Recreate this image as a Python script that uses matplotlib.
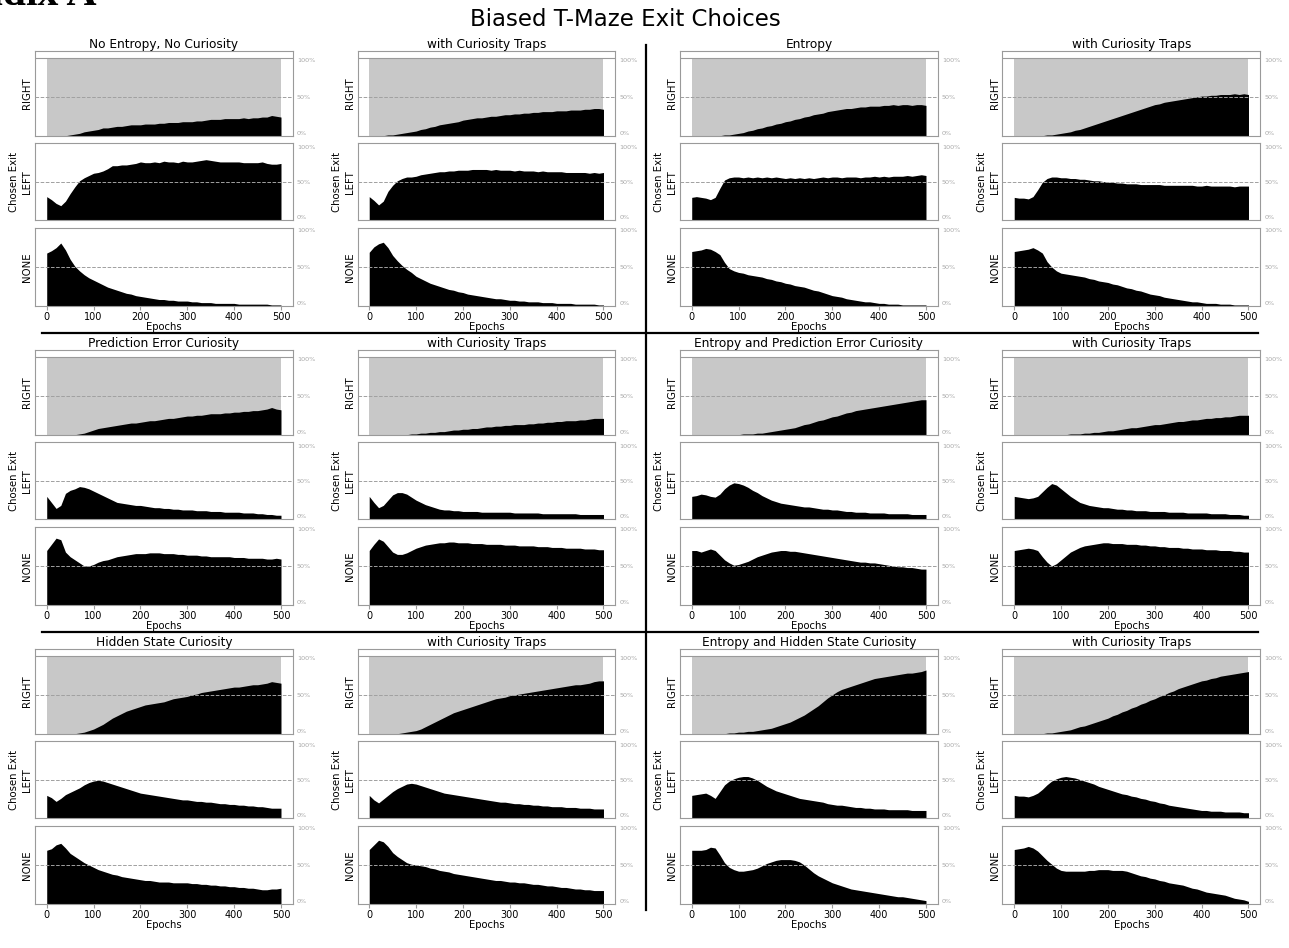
import numpy as np
import matplotlib.pyplot as plt
from matplotlib.lines import Line2D

epochs = np.arange(0, 501, 10)

# --- No Entropy, No Curiosity ---
nn_right = [0, 0, 0, 0, 0, 1, 2, 3, 5, 6,
            7, 8, 10, 10, 11, 12, 12, 13, 14, 14,
            14, 15, 15, 15, 16, 16, 17, 17, 17, 18,
            18, 18, 19, 19, 20, 21, 21, 21, 22, 22,
            22, 22, 23, 22, 23, 23, 24, 24, 26, 25,
            24]
nn_left = [31, 27, 22, 19, 25, 35, 44, 52, 56, 59,
           62, 63, 65, 68, 72, 72, 73, 73, 74, 75,
           77, 76, 76, 77, 76, 78, 77, 77, 76, 78,
           77, 77, 78, 79, 80, 79, 78, 77, 77, 77,
           77, 77, 76, 76, 76, 76, 77, 75, 74, 74,
           75]
nn_none = [68, 71, 75, 81, 72, 60, 51, 45, 40, 36,
           33, 30, 27, 24, 22, 20, 18, 16, 15, 13,
           12, 11, 10, 9, 8, 8, 7, 7, 6, 6,
           6, 5, 5, 4, 4, 4, 3, 3, 3, 3,
           3, 2, 2, 2, 2, 2, 2, 2, 1, 1,
           1]

# --- No Entropy, No Curiosity, with traps ---
nnt_right = [0, 0, 0, 0, 1, 1, 2, 3, 4, 5,
             6, 8, 9, 11, 12, 14, 15, 16, 17, 18,
             20, 21, 22, 23, 23, 24, 25, 25, 26, 27,
             27, 28, 28, 29, 29, 30, 30, 31, 31, 31,
             32, 32, 32, 33, 33, 33, 34, 34, 35, 35,
             34]
nnt_left = [31, 26, 20, 25, 38, 46, 52, 55, 57, 57,
            58, 60, 61, 62, 63, 64, 64, 65, 65, 66,
            66, 66, 67, 67, 67, 67, 66, 67, 66, 66,
            66, 65, 66, 65, 65, 65, 64, 65, 64, 64,
            64, 64, 63, 63, 63, 63, 63, 62, 63, 62,
            63]
nnt_none = [69, 76, 80, 82, 75, 65, 58, 52, 47, 43,
            38, 35, 32, 29, 27, 25, 23, 21, 20, 18,
            17, 15, 14, 13, 12, 11, 10, 9, 9, 8,
            7, 7, 6, 6, 5, 5, 5, 4, 4, 4,
            3, 3, 3, 3, 2, 2, 2, 2, 2, 1,
            1]

# --- Entropy ---
en_right = [0, 0, 0, 0, 0, 0, 0, 1, 1, 2,
            3, 4, 6, 7, 9, 10, 12, 13, 15, 16,
            18, 19, 21, 22, 24, 25, 27, 28, 29, 31,
            32, 33, 34, 35, 35, 36, 37, 37, 38, 38,
            38, 39, 39, 40, 39, 40, 40, 39, 40, 40,
            39]
en_left = [30, 31, 30, 29, 27, 30, 42, 53, 56, 57,
           57, 56, 57, 56, 57, 56, 57, 56, 57, 56,
           55, 56, 55, 56, 55, 56, 55, 56, 57, 56,
           57, 57, 56, 57, 57, 57, 56, 57, 57, 58,
           57, 58, 57, 58, 58, 58, 59, 58, 59, 60,
           59]
en_none = [70, 71, 72, 74, 73, 70, 66, 56, 48, 45,
           43, 42, 40, 39, 38, 37, 35, 34, 32, 31,
           29, 28, 26, 25, 24, 22, 20, 19, 17, 15,
           13, 12, 11, 9, 8, 7, 6, 5, 5, 4,
           3, 3, 2, 2, 2, 1, 1, 1, 1, 1,
           1]

# --- Entropy, with traps ---
ent_right = [0, 0, 0, 0, 0, 0, 0, 1, 1, 2,
             3, 4, 5, 7, 8, 10, 12, 14, 16, 18,
             20, 22, 24, 26, 28, 30, 32, 34, 36, 38,
             40, 41, 43, 44, 45, 46, 47, 48, 49, 50,
             51, 51, 52, 52, 53, 53, 53, 54, 53, 54,
             53]
ent_left = [30, 29, 29, 28, 31, 40, 50, 55, 57, 57,
            56, 56, 55, 55, 54, 54, 53, 52, 52, 51,
            50, 50, 49, 49, 48, 48, 48, 47, 47, 47,
            47, 47, 46, 46, 46, 46, 46, 46, 46, 45,
            45, 46, 45, 45, 45, 45, 45, 44, 45, 45,
            45]
ent_none = [70, 71, 72, 73, 75, 72, 68, 57, 50, 45,
            42, 41, 40, 39, 38, 37, 35, 34, 32, 31,
            30, 28, 27, 25, 23, 22, 20, 19, 17, 15,
            14, 13, 11, 10, 9, 8, 7, 6, 5, 5,
            4, 3, 3, 3, 2, 2, 2, 1, 1, 1,
            1]

# --- Prediction Error Curiosity ---
pe_right = [0, 0, 0, 0, 0, 0, 0, 1, 2, 4,
            6, 8, 9, 10, 11, 12, 13, 14, 15, 15,
            16, 17, 18, 18, 19, 20, 21, 21, 22, 23,
            24, 24, 25, 25, 26, 27, 27, 27, 28, 28,
            29, 29, 30, 30, 31, 31, 32, 33, 35, 33,
            32]
pe_left = [30, 22, 14, 18, 34, 38, 40, 43, 42, 40,
           37, 34, 31, 28, 25, 22, 21, 20, 19, 18,
           18, 17, 16, 15, 15, 14, 14, 13, 13, 12,
           12, 12, 11, 11, 11, 10, 10, 10, 9, 9,
           9, 9, 8, 8, 8, 7, 7, 6, 6, 5,
           5]
pe_none = [70, 78, 86, 84, 68, 62, 58, 54, 50, 50,
           52, 55, 57, 58, 60, 62, 63, 64, 65, 66,
           66, 66, 67, 67, 67, 66, 66, 66, 65, 65,
           64, 64, 64, 63, 63, 62, 62, 62, 62, 62,
           61, 61, 61, 60, 60, 60, 60, 59, 59, 60,
           59]

# --- Prediction Error Curiosity, with traps ---
pet_right = [0, 0, 0, 0, 0, 0, 0, 0, 0, 1,
             1, 2, 2, 3, 3, 4, 4, 5, 6, 6,
             7, 7, 8, 8, 9, 10, 10, 11, 11, 12,
             12, 13, 13, 13, 14, 14, 15, 15, 16, 16,
             17, 17, 18, 18, 18, 19, 19, 20, 21, 21,
             21]
pet_left = [30, 22, 15, 18, 25, 32, 35, 35, 33, 29,
            25, 22, 19, 17, 15, 13, 12, 12, 11, 11,
            10, 10, 10, 10, 9, 9, 9, 9, 9, 9,
            9, 8, 8, 8, 8, 8, 8, 7, 7, 7,
            7, 7, 7, 7, 7, 6, 6, 6, 6, 6,
            6]
pet_none = [70, 78, 85, 82, 75, 68, 65, 65, 67, 70,
            73, 75, 77, 78, 79, 80, 80, 81, 81, 80,
            80, 80, 79, 79, 79, 78, 78, 78, 78, 77,
            77, 77, 76, 76, 76, 76, 75, 75, 75, 74,
            74, 74, 73, 73, 73, 73, 72, 72, 72, 71,
            71]

# --- Entropy and Prediction Error Curiosity ---
epe_right = [0, 0, 0, 0, 0, 0, 0, 0, 0, 0,
             0, 1, 1, 1, 2, 2, 3, 4, 5, 6,
             7, 8, 9, 11, 13, 14, 16, 18, 19, 21,
             23, 24, 26, 28, 29, 31, 32, 33, 34, 35,
             36, 37, 38, 39, 40, 41, 42, 43, 44, 45,
             45]
epe_left = [30, 31, 33, 32, 30, 29, 33, 40, 45, 48,
            47, 45, 42, 38, 35, 31, 28, 25, 23, 21,
            20, 19, 18, 17, 16, 16, 15, 14, 13, 13,
            12, 12, 11, 10, 10, 9, 9, 9, 8, 8,
            8, 8, 7, 7, 7, 7, 7, 6, 6, 6,
            6]
epe_none = [70, 70, 68, 70, 72, 70, 64, 58, 54, 51,
            52, 54, 56, 59, 62, 64, 66, 68, 69, 70,
            70, 69, 69, 68, 67, 66, 65, 64, 63, 62,
            61, 60, 59, 58, 57, 56, 55, 55, 54, 54,
            53, 52, 51, 50, 49, 49, 48, 48, 47, 46,
            46]

# --- Entropy and Prediction Error Curiosity, with traps ---
epet_right = [0, 0, 0, 0, 0, 0, 0, 0, 0, 0,
              0, 0, 1, 1, 1, 2, 2, 3, 3, 4,
              5, 5, 6, 7, 8, 9, 9, 10, 11, 12,
              13, 13, 14, 15, 16, 17, 17, 18, 19, 19,
              20, 21, 21, 22, 22, 23, 23, 24, 25, 25,
              25]
epet_left = [30, 29, 28, 27, 28, 30, 36, 42, 47, 45,
             40, 35, 30, 26, 22, 20, 18, 17, 16, 15,
             15, 14, 13, 13, 12, 12, 11, 11, 11, 10,
             10, 10, 10, 9, 9, 9, 9, 8, 8, 8,
             8, 8, 7, 7, 7, 7, 6, 6, 6, 5,
             5]
epet_none = [70, 71, 72, 73, 72, 70, 62, 55, 50, 53,
             58, 63, 68, 71, 74, 76, 77, 78, 79, 80,
             80, 79, 79, 79, 78, 78, 78, 77, 77, 76,
             76, 75, 75, 74, 74, 74, 73, 73, 72, 72,
             72, 71, 71, 71, 70, 70, 70, 69, 69, 68,
             68]

# --- Hidden State Curiosity ---
hs_right = [0, 0, 0, 0, 0, 0, 0, 1, 2, 4,
            6, 9, 12, 16, 20, 23, 26, 29, 31, 33,
            35, 37, 38, 39, 40, 41, 43, 45, 46, 47,
            48, 50, 51, 53, 54, 55, 56, 57, 58, 59,
            60, 60, 61, 62, 63, 63, 64, 65, 67, 66,
            65]
hs_left = [30, 27, 22, 26, 31, 34, 37, 40, 44, 47,
           49, 50, 49, 47, 45, 43, 41, 39, 37, 35,
           33, 32, 31, 30, 29, 28, 27, 26, 25, 24,
           24, 23, 22, 22, 21, 21, 20, 19, 19, 18,
           18, 17, 17, 16, 16, 15, 15, 14, 13, 13,
           13]
hs_none = [69, 71, 76, 78, 72, 65, 61, 57, 53, 50,
           47, 44, 42, 40, 38, 37, 35, 34, 33, 32,
           31, 30, 30, 29, 28, 28, 28, 27, 27, 27,
           27, 26, 26, 25, 25, 24, 24, 23, 23, 22,
           22, 21, 21, 20, 20, 19, 18, 18, 19, 19,
           20]

# --- Hidden State Curiosity, with traps ---
hst_right = [0, 0, 0, 0, 0, 0, 0, 1, 2, 3,
             4, 6, 9, 12, 15, 18, 21, 24, 27, 29,
             31, 33, 35, 37, 39, 41, 43, 45, 46, 47,
             49, 50, 51, 52, 53, 54, 55, 56, 57, 58,
             59, 60, 61, 62, 63, 63, 64, 65, 67, 68,
             68]
hst_left = [30, 24, 20, 25, 30, 35, 39, 42, 45, 46,
            45, 43, 41, 39, 37, 35, 33, 32, 31, 30,
            29, 28, 27, 26, 25, 24, 23, 22, 21, 21,
            20, 19, 19, 18, 18, 17, 17, 16, 16, 15,
            15, 15, 14, 14, 14, 13, 13, 13, 12, 12,
            12]
hst_none = [70, 76, 82, 80, 74, 66, 61, 57, 53, 51,
            50, 49, 48, 46, 45, 43, 42, 41, 39, 38,
            37, 36, 35, 34, 33, 32, 31, 30, 30, 29,
            28, 28, 27, 27, 26, 25, 25, 24, 23, 23,
            22, 21, 21, 20, 19, 19, 18, 18, 17, 17,
            17]

# --- Entropy and Hidden State Curiosity ---
ehs_right = [0, 0, 0, 0, 0, 0, 0, 0, 1, 1,
             2, 2, 3, 3, 4, 5, 6, 7, 9, 11,
             13, 15, 18, 21, 24, 28, 32, 36, 41, 46,
             50, 54, 57, 59, 61, 63, 65, 67, 69, 71,
             72, 73, 74, 75, 76, 77, 78, 78, 79, 80,
             82]
ehs_left = [30, 31, 32, 33, 30, 26, 35, 44, 49, 52,
            54, 55, 55, 53, 50, 46, 42, 39, 36, 34,
            32, 30, 28, 26, 25, 24, 23, 22, 21, 19,
            18, 17, 17, 16, 15, 14, 14, 13, 13, 12,
            12, 12, 11, 11, 11, 11, 11, 10, 10, 10,
            10]
ehs_none = [69, 69, 69, 70, 73, 72, 63, 53, 47, 44,
            42, 42, 43, 44, 46, 49, 52, 54, 56, 57,
            57, 57, 56, 54, 50, 45, 40, 36, 33, 30,
            27, 25, 23, 21, 19, 18, 17, 16, 15, 14,
            13, 12, 11, 10, 9, 9, 8, 7, 6, 5,
            4]

# --- Entropy and Hidden State Curiosity, with traps ---
ehst_right = [0, 0, 0, 0, 0, 0, 0, 1, 1, 2,
              3, 4, 5, 7, 9, 10, 12, 14, 16, 18,
              20, 23, 25, 28, 30, 33, 35, 38, 40, 43,
              45, 48, 50, 53, 55, 58, 60, 62, 64, 66,
              68, 69, 71, 72, 74, 75, 76, 77, 78, 79,
              80]
ehst_left = [30, 29, 29, 28, 30, 33, 38, 44, 49, 52,
             54, 55, 54, 53, 51, 49, 47, 45, 42, 40,
             38, 36, 34, 32, 31, 29, 28, 26, 25, 23,
             22, 20, 19, 17, 16, 15, 14, 13, 12, 11,
             10, 10, 9, 9, 9, 8, 8, 8, 8, 7,
             7]
ehst_none = [70, 71, 72, 74, 72, 68, 62, 56, 51, 46,
             43, 42, 42, 42, 42, 42, 43, 43, 44, 44,
             44, 43, 43, 43, 42, 40, 38, 36, 35, 33,
             32, 30, 29, 27, 26, 25, 24, 22, 20, 19,
             17, 15, 14, 13, 12, 11, 9, 7, 6, 5,
             3]

titles = [
    "No Entropy, No Curiosity", "with Curiosity Traps",
    "Entropy", "with Curiosity Traps",
    "Prediction Error Curiosity", "with Curiosity Traps",
    "Entropy and Prediction Error Curiosity", "with Curiosity Traps",
    "Hidden State Curiosity", "with Curiosity Traps",
    "Entropy and Hidden State Curiosity", "with Curiosity Traps",
]
series = [
    (nn_right, nn_left, nn_none), (nnt_right, nnt_left, nnt_none),
    (en_right, en_left, en_none), (ent_right, ent_left, ent_none),
    (pe_right, pe_left, pe_none), (pet_right, pet_left, pet_none),
    (epe_right, epe_left, epe_none), (epet_right, epet_left, epet_none),
    (hs_right, hs_left, hs_none), (hst_right, hst_left, hst_none),
    (ehs_right, ehs_left, ehs_none), (ehst_right, ehst_left, ehst_none),
]

W, H = 1289, 948
fig = plt.figure(figsize=(W / 100, H / 100), dpi=100)

SPINE = '#9a9a9a'
col_left = [35, 357.5, 680, 1002.5]
row_top = [50.7, 349.7, 648.7]
ax_w = 257.7


def px_axes(x, y, w, h):
    return fig.add_axes([x / W, 1 - (y + h) / H, w / W, h / H])


def style_axes(ax, ytop, label, bottom_row):
    ax.set_xlim(-25, 525)
    ax.set_ylim(0, ytop)
    for s in ax.spines.values():
        s.set_color(SPINE)
        s.set_linewidth(0.8)
    ax.axhline(0.5, color='#a0a0a0', ls='--', lw=0.7, zorder=3)
    ax.yaxis.tick_right()
    ax.set_yticks([0, 0.5, 1])
    ax.set_yticklabels(['0%', '50%', '100%'], fontsize=4.6, color='#a8a8a8')
    ax.tick_params(axis='y', length=0, pad=3)
    lbls = ax.get_yticklabels()
    lbls[0].set_va('bottom')
    lbls[2].set_va('top')
    ax.set_ylabel(label, fontsize=7.3, labelpad=2, linespacing=1.35)
    if bottom_row:
        ax.set_xticks([0, 100, 200, 300, 400, 500])
        ax.tick_params(axis='x', labelsize=7, color=SPINE, length=3, pad=1.5)
        ax.set_xlabel('Epochs', fontsize=7.2, labelpad=0)
    else:
        ax.tick_params(axis='x', bottom=False, labelbottom=False)


for i, (title, (r, l, n)) in enumerate(zip(titles, series)):
    x0 = col_left[i % 4]
    t = row_top[i // 4]

    ax_r = px_axes(x0, t, ax_w, 85)
    ax_l = px_axes(x0, t + 92.6, ax_w, 76.7)
    ax_n = px_axes(x0, t + 177.6, ax_w, 77.4)

    style_axes(ax_r, 1.094, 'RIGHT', False)
    style_axes(ax_l, 1.017, 'Chosen Exit\nLEFT', False)
    style_axes(ax_n, 1.0, 'NONE', True)

    ax_r.fill_between([0, 500], 0, 1, color='#c8c8c8', lw=0, zorder=1)
    ax_r.axhline(1, color=SPINE, lw=0.8, zorder=2)
    ax_r.fill_between(epochs, 0, np.array(r) / 100, color='black', lw=0, zorder=2)
    ax_l.fill_between(epochs, 0, np.array(l) / 100, color='black', lw=0, zorder=2)
    ax_n.fill_between(epochs, 0, np.array(n) / 100, color='black', lw=0, zorder=2)

    ax_r.set_title(title, fontsize=8.7, pad=2)

fig.text(625 / W, 1 - 20 / H, 'Biased T-Maze Exit Choices', fontsize=16.5,
         ha='center', va='center')
fig.text(97 / W, 1 - 5 / H, 'Appendix A', ha='right', va='baseline',
         fontsize=30, fontweight='bold', family='Liberation Serif')

# quadrant separators
fig.add_artist(Line2D([646 / W, 646 / W], [1 - 45 / H, 1 - 910 / H], color='black', lw=1.6))
for yy in (333, 632):
    fig.add_artist(Line2D([42 / W, 1258 / W], [1 - yy / H, 1 - yy / H], color='black', lw=1.6))

fig.savefig('out.png', dpi=100)
